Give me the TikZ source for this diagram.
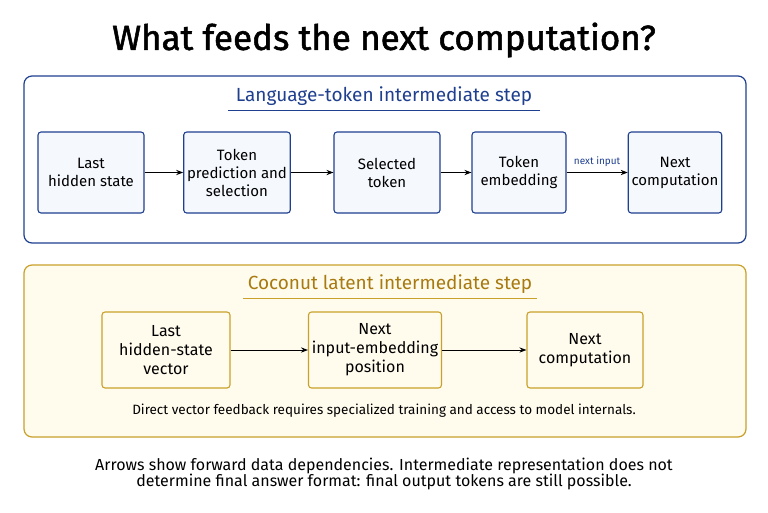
\documentclass[tikz,border=0pt]{standalone}
\usepackage{fontspec}
\setmainfont{Fira Sans}
\usetikzlibrary{arrows.meta}
\definecolor{bl}{HTML}{1F3F8F}
\definecolor{blfill}{HTML}{F5F8FD}
\definecolor{gd}{HTML}{C9A02A}
\definecolor{gdtxt}{HTML}{A87A10}
\definecolor{gdfill}{HTML}{FFFCEE}
\begin{document}
\begin{tikzpicture}[x=1pt,y=-1pt,
  bbox/.style={draw=bl,line width=1.1pt,fill=blfill,rounded corners=3pt,align=center,font=\fontsize{15}{18}\selectfont},
  gbox/.style={draw=gd,line width=1.1pt,fill=gdfill,rounded corners=3pt,align=center,font=\fontsize{16}{19}\selectfont},
  arr/.style={-{Stealth[length=7pt]},line width=1pt,black}]
\useasboundingbox[fill=white] (0,0) rectangle (768,512);
\node (title) at (384,40) {\fontsize{35}{40}\selectfont\addfontfeatures{FakeBold=1.5} What feeds the next computation?};
% top panel
\draw[bl,line width=1.2pt,rounded corners=8pt] (24,76) rectangle (746,243);
\node[text=bl] (st1) at (384,96) {\fontsize{19}{22}\selectfont Language-token intermediate step};
\draw[bl,line width=1pt] (228,110) -- (540,110);
\node[bbox,minimum width=106pt,minimum height=81pt] (a1) at (91,172.5) {Last\\hidden state};
\node[bbox,minimum width=106pt,minimum height=81pt] (a2) at (237,172.5) {Token\\prediction and\\selection};
\node[bbox,minimum width=106pt,minimum height=81pt] (a3) at (387,172.5) {Selected\\token};
\node[bbox,minimum width=94pt,minimum height=81pt] (a4) at (519,172.5) {Token\\embedding};
\node[bbox,minimum width=86pt,minimum height=81pt] (a5) at (675,172.5) {Next\\computation};
\draw[arr] (a1) -- (a2);
\draw[arr] (a2) -- (a3);
\draw[arr] (a3) -- (a4);
\draw[arr] (a4) -- node[above,text=bl,font=\fontsize{10}{12}\selectfont,yshift=2pt] (lbl) {next input} (a5);
% bottom panel
\draw[gd,line width=1.2pt,rounded corners=8pt,fill=gdfill] (24,265) rectangle (746,437);
\node[text=gdtxt] (st2) at (390,284) {\fontsize{19}{22}\selectfont Coconut latent intermediate step};
\draw[gd,line width=1pt] (243,298) -- (537,298);
\node[gbox,minimum width=128pt,minimum height=76pt] (b1) at (166,350) {Last\\hidden-state\\vector};
\node[gbox,minimum width=130pt,minimum height=76pt] (b2) at (375,350) {Next\\input-embedding\\position};
\node[gbox,minimum width=116pt,minimum height=76pt] (b3) at (585,350) {Next\\computation};
\draw[arr] (b1) -- (b2);
\draw[arr] (b2) -- (b3);
\node (note) at (384,411) {\fontsize{13.5}{15}\selectfont Direct vector feedback requires specialized training and access to model internals.};
\node[align=center] (foot) at (384,474) {\fontsize{16}{22}\selectfont Arrows show forward data dependencies. Intermediate representation does not\\\fontsize{16}{22}\selectfont determine final answer format: final output tokens are still possible.};
\end{tikzpicture}
\end{document}
